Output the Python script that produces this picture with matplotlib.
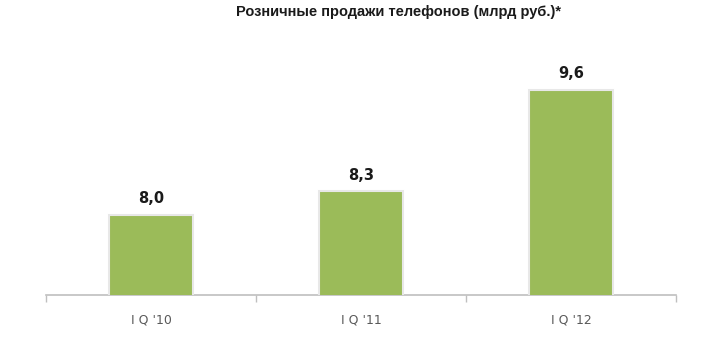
import matplotlib.pyplot as plt

categories = ["I Q '10", "I Q '11", "I Q '12"]
values = [8.0, 8.3, 9.6]
labels = ["8,0", "8,3", "9,6"]
title = "Розничные продажи телефонов (млрд руб.)*"

W, H = 709, 351
fig = plt.figure(figsize=(W / 100, H / 100), dpi=100)
left, right = 46 / W, 676 / W
bottom = 1 - 295 / H
top = 1 - 19.4 / H
ax = fig.add_axes([left, bottom, right - left, top - bottom])

x = range(len(categories))
bars = ax.bar(x, values, width=0.4, color='#9BBB59', edgecolor='#E8E8E8',
              linewidth=1.5, zorder=3)
for b, lab in zip(bars, labels):
    ax.annotate(lab, (b.get_x() + b.get_width() / 2, b.get_height()),
                xytext=(0, 6), textcoords='offset points', ha='center',
                va='bottom', fontsize=10.5, fontweight='bold', color='#1a1a1a')

ax.set_xlim(-0.5, len(categories) - 0.5)
ax.set_ylim(6.97, 10.5)
ax.set_yticks([])
for s in ['top', 'right', 'left']:
    ax.spines[s].set_visible(False)
ax.spines['bottom'].set_color('#BFBFBF')
ax.spines['bottom'].set_linewidth(1.2)

# category borders as tick marks, labels on minor ticks
ax.set_xticks([i - 0.5 for i in range(len(categories) + 1)])
ax.set_xticklabels([])
ax.tick_params(axis='x', direction='out', length=5, color='#BFBFBF', width=1)
ax.set_xticks(list(x), minor=True)
ax.set_xticklabels(categories, minor=True)
ax.tick_params(axis='x', which='minor', length=0, pad=13, labelsize=9,
               labelcolor='#595959')

fig.text(399 / W, 1 - 12 / H, title, ha='center', va='center',
         fontsize=10.5, fontweight='bold', color='#1a1a1a',
         family='Liberation Sans')

fig.savefig('out.png', dpi=100)
